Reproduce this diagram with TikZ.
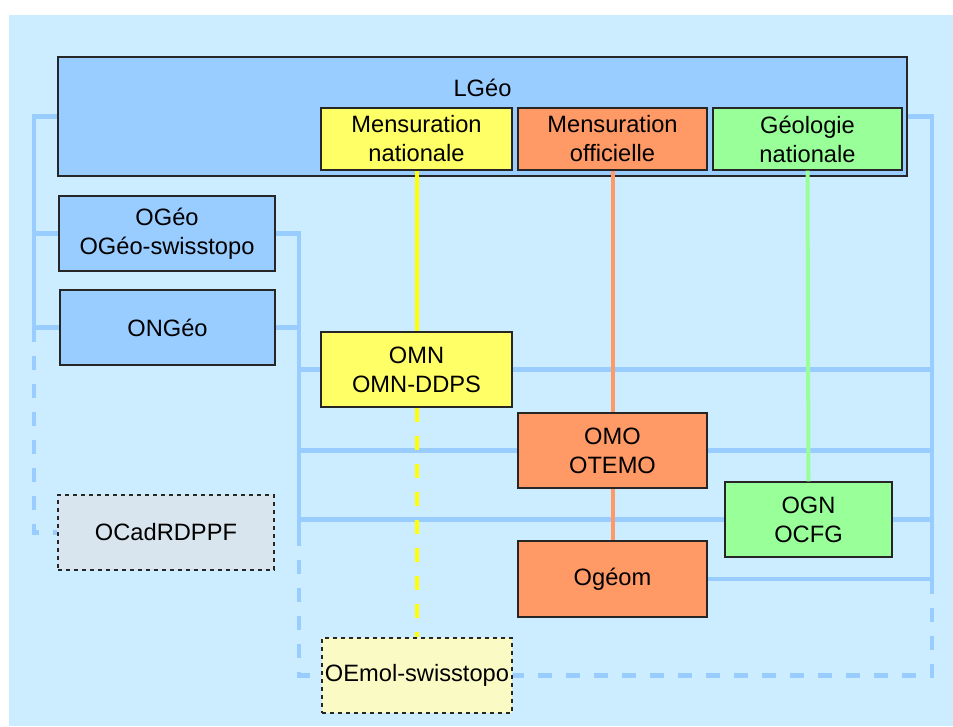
\documentclass[tikz,border=0pt]{standalone}
\usepackage{fontspec}
\setmainfont{Liberation Sans}
\begin{document}
\begin{tikzpicture}[x=0.75pt,y=-0.75pt,
  sz/.style 2 args={minimum width=#1*0.75pt,minimum height=#2*0.75pt},
  box/.style={draw=black!85,line width=0.8pt,inner sep=0pt,align=center,
    font=\fontsize{17.75}{21.75}\selectfont},
  bluebox/.style={box,fill=boxblue},
  yelbox/.style={box,fill=boxyel},
  orbox/.style={box,fill=boxor},
  grbox/.style={box,fill=boxgr},
  bus/.style={draw=busblue,line width=3.4pt},
  busdash/.style={bus,dash pattern=on 10.5pt off 10.5pt},
  yline/.style={draw=lineyel,line width=3pt},
  oline/.style={draw=boxor,line width=3pt},
  gline/.style={draw=boxgr,line width=3pt}]
\definecolor{bg}{HTML}{CCECFF}
\definecolor{boxblue}{HTML}{99CCFF}
\definecolor{busblue}{HTML}{99CCFF}
\definecolor{boxyel}{HTML}{FFFF66}
\definecolor{lineyel}{HTML}{FFFF00}
\definecolor{boxor}{HTML}{FF9966}
\definecolor{boxgr}{HTML}{99FF99}
\definecolor{hatchgray}{HTML}{D9E5EE}
\definecolor{hatchyel}{HTML}{FAFAC4}
\useasboundingbox (0,0) rectangle (953,726);
\fill[white] (0,0) rectangle (953,726);
\fill[bg] (9,15) rectangle (953,726);

% nodes
\node[bluebox,sz={849}{119},
  label={[anchor=center,label distance=0pt,yshift=-23.25pt,font=\fontsize{17.75}{21.75}\selectfont]north:LGéo}]
  (LGeo) at (482.5,116.5) {};
\node[yelbox,sz={191}{62}] (MN) at (416.5,139) {Mensuration\\nationale};
\node[orbox,sz={189}{62}] (MO) at (612.5,139) {Mensuration\\officielle};
\node[grbox,sz={189}{62}] (GN) at (807.5,139) {Géologie\\nationale};
\node[bluebox,sz={216}{75}] (OGeo) at (167,233.5) {OGéo\\OGéo-swisstopo};
\node[bluebox,sz={215}{75}] (ONGeo) at (167.5,327.5) {ONGéo};
\node[yelbox,sz={191}{75}] (OMN) at (416.5,369.5) {OMN\\OMN-DDPS};
\node[orbox,sz={189}{75}] (OMO) at (612.5,450.5) {OMO\\OTEMO};
\node[grbox,sz={167}{75}] (OGN) at (808.5,519.5) {OGN\\OCFG};
\node[orbox,sz={189}{76}] (Ogeom) at (612.5,579) {Ogéom};
\node[box,fill=hatchgray,dashed,sz={216}{75}] (OCad) at (166,532.5) {OCadRDPPF};
\node[box,fill=hatchyel,dashed,sz={190}{75}] (OEmol) at (417,675.5) {OEmol-swisstopo};

% left bus
\coordinate (L1) at (34,116.5);
\coordinate (L2) at (34,327.5);
\draw[bus] (LGeo.west) -- (L1) |- (OGeo.west);
\draw[bus] (L1) |- (ONGeo.west);
\draw[busdash] (L2) |- (OCad.west);

% middle bus
\coordinate (M1) at (299,233.5);
\coordinate (M2) at (299,532);
\draw[bus] (OGeo.east) -- (M1) -- (M2);
\draw[bus] (ONGeo.east) -- (ONGeo.east -| M1);
\draw[bus] (OMN.west -| M1) -- (OMN.west);
\draw[bus] (OMO.west -| M1) -- (OMO.west);
\draw[bus] (OGN.west -| M1) -- (OGN.west);
\draw[busdash] (M2) |- (OEmol.west);

% right bus
\coordinate (R1) at (932,116.5);
\coordinate (R2) at (932,580);
\draw[bus] (LGeo.east) -- (R1) -- (R2);
\draw[bus] (OMN.east) -- (OMN.east -| R1);
\draw[bus] (OMO.east) -- (OMO.east -| R1);
\draw[bus] (OGN.east) -- (OGN.east -| R1);
\draw[bus] (Ogeom.east) -- (Ogeom.east -| R1);
\draw[busdash] (R2) |- (OEmol.east);

% coloured links
\draw[yline] (MN.south) -- (OMN.north);
\draw[yline,dash pattern=on 10.5pt off 10.5pt] (OMN.south) -- (OMN.south |- OEmol.north);
\draw[oline] (MO.south) -- (OMO.north);
\draw[oline] (OMO.south) -- (Ogeom.north);
\draw[gline] (GN.south) -- (OGN.north);
\end{tikzpicture}
\end{document}
